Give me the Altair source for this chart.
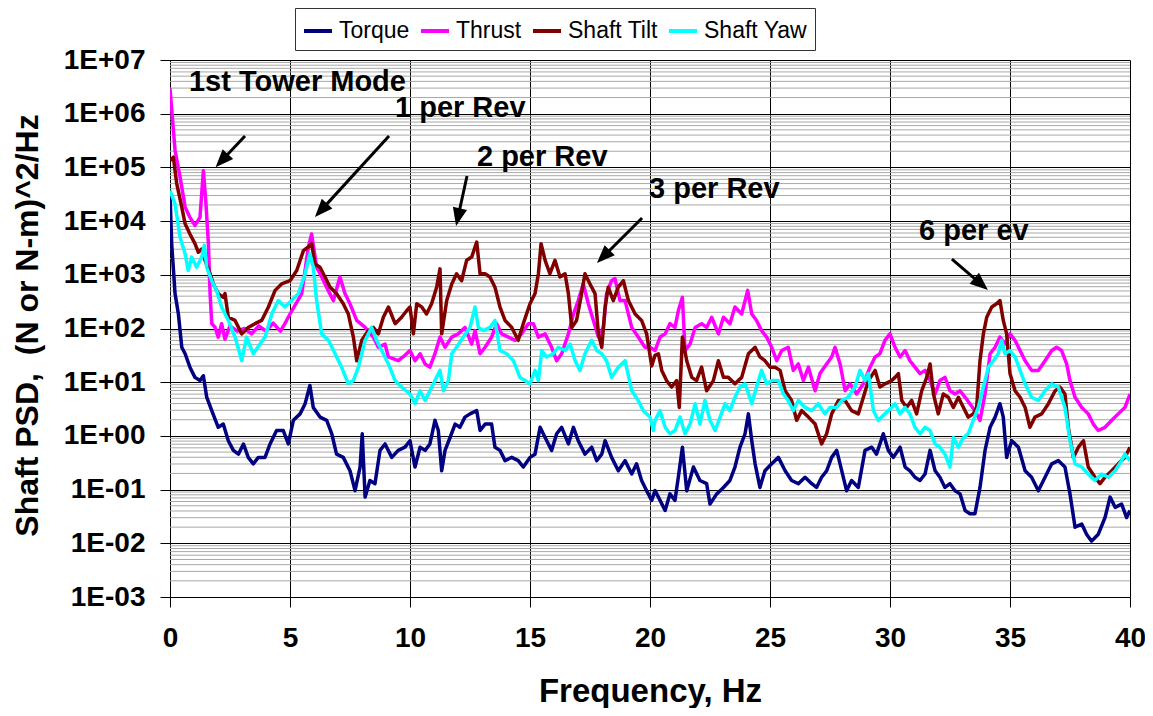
import altair as alt
import pandas as pd

series_names = ["Torque", "Thrust", "Shaft Tilt", "Shaft Yaw"]
series_colors = ["#000080", "#FF00FF", "#800000", "#00FFFF"]

# (frequency Hz, log10 PSD)
torque_log = [(0,4.51),(0.07,3.58),(0.21,2.65),(0.35,2.27),(0.49,1.65),(0.63,1.53),(0.83,1.28),(1.04,1.09),(1.25,1.03),(1.39,1.12),(1.53,0.72),(1.74,0.47),(2.01,0.16),(2.22,0.22),(2.43,-0.09),(2.64,-0.27),(2.85,-0.34),(3.06,-0.15),(3.26,-0.40),(3.47,-0.52),(3.68,-0.40),(3.96,-0.40),(4.17,-0.15),(4.44,0.10),(4.72,0.10),(4.93,-0.15),(5.14,0.29),(5.42,0.41),(5.63,0.60),(5.83,0.94),(5.97,0.53),(6.25,0.35),(6.53,0.29),(6.74,0.04),(6.94,-0.34),(7.22,-0.40),(7.5,-0.65),(7.71,-1.02),(7.92,-0.58),(8.01,0.04),(8.13,-1.14),(8.33,-0.83),(8.54,-0.89),(8.75,-0.27),(8.96,-0.15),(9.24,-0.40),(9.51,-0.27),(9.79,-0.21),(10.0,-0.09),(10.21,-0.58),(10.42,-0.21),(10.63,-0.27),(10.83,-0.15),(11.04,0.29),(11.18,0.10),(11.32,-0.65),(11.46,-0.27),(11.67,-0.03),(11.88,0.22),(12.08,0.16),(12.29,0.35),(12.5,0.41),(12.78,0.47),(12.92,0.10),(13.13,0.22),(13.4,0.22),(13.54,-0.21),(13.75,-0.27),(13.96,-0.46),(14.24,-0.40),(14.51,-0.46),(14.72,-0.58),(15.0,-0.40),(15.21,-0.34),(15.42,0.16),(15.63,-0.03),(15.9,-0.27),(16.11,0.04),(16.32,0.16),(16.6,-0.15),(16.81,0.16),(17.01,-0.09),(17.29,-0.34),(17.57,-0.21),(17.78,-0.46),(17.99,-0.34),(18.13,-0.09),(18.4,-0.40),(18.68,-0.65),(18.96,-0.46),(19.24,-0.71),(19.44,-0.52),(19.65,-0.83),(19.86,-1.02),(20.07,-1.20),(20.21,-1.02),(20.42,-1.20),(20.63,-1.39),(20.83,-1.08),(21.04,-1.20),(21.18,-0.77),(21.35,-0.21),(21.53,-1.02),(21.81,-0.58),(22.08,-0.83),(22.36,-0.89),(22.5,-1.27),(22.78,-1.08),(23.06,-0.96),(23.33,-0.83),(23.54,-0.58),(23.75,-0.21),(23.96,0.04),(24.1,0.41),(24.24,-0.09),(24.38,-0.52),(24.58,-0.96),(24.79,-0.65),(25.07,-0.52),(25.35,-0.40),(25.63,-0.65),(25.9,-0.83),(26.18,-0.89),(26.46,-0.77),(26.74,-0.89),(26.94,-0.96),(27.15,-0.77),(27.36,-0.65),(27.57,-0.40),(27.78,-0.27),(27.99,-0.65),(28.19,-1.02),(28.4,-0.83),(28.68,-0.96),(28.96,-0.27),(29.24,-0.21),(29.44,-0.34),(29.72,0.04),(29.93,-0.27),(30.14,-0.40),(30.42,-0.21),(30.63,-0.58),(30.83,-0.65),(31.04,-0.77),(31.25,-0.83),(31.46,-0.71),(31.67,-0.27),(31.88,-0.65),(32.08,-0.77),(32.29,-0.96),(32.5,-0.89),(32.71,-1.02),(32.92,-1.08),(33.13,-1.39),(33.33,-1.45),(33.54,-1.45),(33.75,-0.96),(33.96,-0.27),(34.17,0.16),(34.38,0.35),(34.58,0.60),(34.72,0.35),(34.86,-0.40),(35.07,-0.09),(35.35,-0.21),(35.63,-0.65),(35.9,-0.77),(36.18,-1.02),(36.46,-0.77),(36.74,-0.52),(37.01,-0.46),(37.29,-0.58),(37.5,-1.08),(37.71,-1.70),(37.99,-1.64),(38.19,-1.83),(38.4,-1.96),(38.68,-1.83),(38.96,-1.52),(39.17,-1.14),(39.38,-1.33),(39.65,-1.27),(39.86,-1.52),(40.0,-1.39)]

thrust_log = [(0,6.47),(0.21,5.32),(0.42,4.82),(0.63,4.26),(0.83,4.07),(1.04,3.92),(1.25,4.07),(1.39,4.94),(1.49,4.38),(1.6,3.58),(1.67,2.65),(1.74,2.09),(1.88,2.02),(2.01,1.84),(2.15,2.09),(2.29,1.80),(2.5,2.05),(2.8,1.95),(3.1,2.0),(3.4,1.9),(3.7,2.05),(4.0,1.95),(4.3,2.1),(4.6,1.95),(4.8,2.1),(5.0,2.27),(5.49,2.65),(5.76,3.5),(5.9,3.76),(6.11,3.14),(6.32,2.96),(6.6,2.7),(6.81,2.52),(7.08,2.96),(7.29,2.65),(7.5,2.46),(7.78,2.15),(8.13,2.02),(8.47,1.84),(8.68,1.65),(8.96,1.71),(9.1,1.47),(9.51,1.40),(9.79,1.50),(10.0,1.59),(10.21,1.40),(10.42,1.53),(10.63,1.34),(10.83,1.28),(11.04,1.53),(11.25,1.84),(11.46,1.65),(11.74,1.84),(12.01,1.90),(12.29,2.02),(12.57,1.71),(12.71,1.96),(12.92,1.53),(13.13,1.65),(13.4,1.84),(13.61,2.09),(13.82,1.90),(14.1,1.84),(14.38,1.78),(14.65,1.90),(14.93,2.09),(15.14,2.09),(15.35,1.84),(15.63,1.90),(15.9,1.65),(16.11,1.40),(16.32,1.53),(16.6,1.90),(16.81,2.27),(17.01,2.52),(17.22,2.83),(17.43,2.46),(17.64,2.15),(17.85,1.84),(18.06,2.02),(18.19,2.65),(18.4,2.89),(18.54,2.93),(18.75,2.52),(18.96,2.52),(19.24,2.02),(19.51,1.84),(19.79,1.65),(20.0,1.65),(20.21,1.59),(20.42,1.84),(20.63,1.90),(20.83,2.09),(21.04,2.02),(21.18,2.33),(21.35,2.58),(21.46,1.59),(21.67,1.71),(21.88,2.02),(22.15,2.09),(22.36,2.02),(22.57,2.21),(22.85,1.90),(23.06,2.21),(23.33,2.09),(23.54,2.40),(23.82,2.27),(24.07,2.71),(24.24,2.27),(24.44,2.15),(24.65,1.96),(24.86,1.84),(25.07,1.65),(25.28,1.40),(25.49,1.59),(25.76,1.65),(25.97,1.22),(26.18,1.34),(26.39,1.03),(26.6,1.28),(26.88,0.84),(27.08,1.16),(27.36,1.34),(27.57,1.47),(27.71,1.65),(27.92,1.34),(28.13,0.84),(28.33,0.97),(28.61,0.78),(28.89,0.97),(29.17,1.28),(29.38,1.47),(29.58,1.53),(29.79,1.78),(30.0,1.90),(30.21,1.65),(30.42,1.47),(30.63,1.59),(30.83,1.40),(31.04,1.28),(31.25,1.16),(31.46,1.22),(31.67,1.03),(31.88,0.78),(32.08,1.03),(32.29,1.09),(32.5,0.84),(32.71,0.78),(32.92,0.84),(33.13,0.72),(33.33,0.60),(33.54,0.47),(33.75,0.29),(33.96,0.78),(34.17,1.53),(34.38,1.65),(34.58,1.84),(34.79,1.71),(35.0,1.90),(35.21,1.78),(35.42,1.59),(35.63,1.40),(35.9,1.22),(36.18,1.22),(36.46,1.40),(36.74,1.59),(36.94,1.65),(37.15,1.59),(37.36,1.34),(37.5,1.03),(37.71,0.72),(37.99,0.53),(38.26,0.41),(38.47,0.22),(38.68,0.10),(38.96,0.16),(39.24,0.29),(39.51,0.41),(39.79,0.53),(40.0,0.78)]

tilt_log = [(0,5.13),(0.14,5.19),(0.28,4.70),(0.49,4.26),(0.63,3.95),(0.83,3.76),(1.04,3.58),(1.18,3.42),(1.32,3.48),(1.46,3.27),(1.67,3.02),(1.81,2.83),(2.01,2.65),(2.22,2.58),(2.29,2.65),(2.43,2.21),(2.71,2.15),(2.99,1.90),(3.26,2.02),(3.54,2.09),(3.82,2.15),(4.1,2.40),(4.38,2.71),(4.65,2.83),(5.0,2.89),(5.28,3.08),(5.56,3.45),(5.76,3.52),(5.9,3.58),(6.04,3.2),(6.25,3.14),(6.46,2.96),(6.67,2.77),(6.94,2.65),(7.22,2.46),(7.43,2.27),(7.64,1.84),(7.78,1.40),(7.99,1.78),(8.26,1.96),(8.47,2.02),(8.68,1.9),(8.89,2.21),(9.1,2.40),(9.38,2.09),(9.65,2.21),(9.86,2.33),(10.0,2.40),(10.14,1.90),(10.28,2.46),(10.49,2.40),(10.69,2.27),(10.9,2.46),(11.11,2.77),(11.25,3.11),(11.32,1.90),(11.53,2.52),(11.74,2.83),(11.94,3.02),(12.15,2.89),(12.36,3.27),(12.57,3.33),(12.78,3.61),(12.92,3.02),(13.13,3.02),(13.33,2.96),(13.54,2.77),(13.75,2.40),(13.96,2.15),(14.24,2.02),(14.51,1.78),(14.72,2.09),(15.0,2.46),(15.21,2.65),(15.35,3.02),(15.46,3.58),(15.63,3.27),(15.83,3.02),(16.04,3.27),(16.25,2.96),(16.46,3.02),(16.6,2.65),(16.74,2.02),(16.94,2.15),(17.15,2.65),(17.29,3.02),(17.5,2.83),(17.71,2.65),(17.85,1.90),(17.99,1.65),(18.13,2.40),(18.26,2.77),(18.47,2.52),(18.68,2.77),(18.89,2.89),(19.1,2.52),(19.38,2.27),(19.65,2.15),(19.86,1.90),(20.07,1.30),(20.21,1.50),(20.35,1.53),(20.49,1.22),(20.69,1.03),(20.9,0.91),(21.11,1.03),(21.22,0.53),(21.35,1.84),(21.53,1.40),(21.74,1.09),(21.94,1.03),(22.15,1.28),(22.36,0.84),(22.64,1.03),(22.85,1.40),(23.06,1.09),(23.26,1.09),(23.54,0.97),(23.82,1.09),(24.1,1.53),(24.38,1.65),(24.58,1.47),(24.79,1.40),(25.0,1.28),(25.21,1.28),(25.42,1.22),(25.63,0.84),(25.9,0.66),(26.11,0.29),(26.32,0.47),(26.6,0.35),(26.88,0.22),(27.15,-0.15),(27.36,0.04),(27.57,0.41),(27.85,0.66),(28.13,0.66),(28.4,0.47),(28.68,0.41),(28.89,0.72),(29.1,1.03),(29.38,1.22),(29.58,0.91),(29.79,0.97),(30.07,1.03),(30.21,1.09),(30.35,1.16),(30.49,0.66),(30.69,0.53),(30.9,0.66),(31.11,0.41),(31.32,0.84),(31.53,1.09),(31.67,1.34),(31.81,0.78),(32.01,0.41),(32.22,0.78),(32.43,0.72),(32.64,0.53),(32.85,0.72),(33.06,0.53),(33.26,0.35),(33.47,0.41),(33.61,0.53),(33.75,1.40),(33.89,1.90),(34.03,2.21),(34.24,2.40),(34.44,2.46),(34.58,2.52),(34.72,2.15),(34.86,1.90),(35.0,1.16),(35.21,0.84),(35.42,0.72),(35.63,0.53),(35.83,0.16),(36.04,0.35),(36.32,0.41),(36.6,0.60),(36.88,0.84),(37.08,0.91),(37.29,0.78),(37.43,0.16),(37.64,-0.40),(37.85,-0.21),(38.06,-0.09),(38.26,-0.58),(38.54,-0.77),(38.75,-0.89),(38.96,-0.77),(39.24,-0.65),(39.51,-0.52),(39.79,-0.40),(40.0,-0.21)]

yaw_log = [(0,4.57),(0.21,4.32),(0.42,3.70),(0.63,3.39),(0.76,3.08),(0.9,3.33),(1.11,3.14),(1.32,3.33),(1.43,3.55),(1.53,3.14),(1.74,2.89),(1.94,2.71),(2.15,2.40),(2.43,2.15),(2.71,1.84),(2.99,1.40),(3.19,1.84),(3.47,1.53),(3.75,1.71),(3.96,1.84),(4.24,2.27),(4.51,2.52),(4.79,2.40),(5.07,2.52),(5.35,2.65),(5.63,3.02),(5.83,3.39),(5.97,3.14),(6.11,2.52),(6.32,1.90),(6.6,1.78),(6.88,1.53),(7.15,1.28),(7.43,0.97),(7.64,1.03),(7.85,1.28),(8.13,1.78),(8.4,2.02),(8.61,1.78),(8.82,1.59),(9.1,1.34),(9.38,1.03),(9.65,0.91),(10.0,0.78),(10.21,0.60),(10.42,0.84),(10.63,0.66),(10.83,0.84),(11.04,1.03),(11.25,1.22),(11.39,0.84),(11.6,1.03),(11.74,1.53),(11.94,1.65),(12.22,1.84),(12.5,2.02),(12.71,2.40),(12.85,2.02),(13.06,1.96),(13.33,2.02),(13.54,2.15),(13.75,1.59),(14.03,1.53),(14.31,1.40),(14.58,1.09),(14.79,1.03),(15.0,0.97),(15.21,1.22),(15.35,1.03),(15.49,1.59),(15.69,1.47),(15.97,1.53),(16.18,1.65),(16.46,1.59),(16.67,1.71),(16.88,1.40),(17.08,1.22),(17.29,1.53),(17.57,1.78),(17.78,1.59),(17.99,1.53),(18.19,1.40),(18.4,1.09),(18.68,1.28),(18.96,1.40),(19.24,0.84),(19.51,0.66),(19.72,0.47),(20.0,0.35),(20.14,0.10),(20.21,0.29),(20.42,0.47),(20.63,0.16),(20.83,0.04),(21.04,0.10),(21.25,0.35),(21.46,0.04),(21.67,0.22),(21.88,0.60),(22.08,0.22),(22.29,0.66),(22.5,0.29),(22.71,0.10),(22.92,0.35),(23.13,0.60),(23.33,0.47),(23.54,0.72),(23.75,0.91),(23.96,0.97),(24.24,0.60),(24.44,0.91),(24.65,1.22),(24.86,0.97),(25.07,1.03),(25.35,1.03),(25.56,0.78),(25.76,0.66),(25.97,0.47),(26.18,0.66),(26.46,0.53),(26.74,0.47),(27.01,0.60),(27.29,0.41),(27.5,0.53),(27.78,0.53),(27.99,0.66),(28.26,0.72),(28.54,0.91),(28.75,1.22),(28.96,1.03),(29.1,1.16),(29.31,0.47),(29.51,0.29),(29.79,0.41),(30.07,0.53),(30.21,0.60),(30.42,0.41),(30.63,0.53),(30.83,0.41),(31.04,0.16),(31.25,0.04),(31.46,0.16),(31.67,0.10),(31.88,-0.15),(32.08,-0.21),(32.29,-0.34),(32.5,-0.58),(32.64,-0.03),(32.85,-0.21),(33.06,-0.03),(33.26,0.04),(33.47,0.29),(33.68,0.53),(33.89,0.91),(34.1,1.28),(34.31,1.40),(34.51,1.53),(34.65,1.78),(34.79,1.53),(35.0,1.59),(35.21,1.47),(35.42,1.22),(35.63,0.97),(35.9,0.72),(36.18,0.66),(36.46,0.84),(36.74,0.97),(37.01,0.91),(37.29,0.53),(37.5,-0.09),(37.71,-0.52),(37.99,-0.58),(38.26,-0.71),(38.54,-0.83),(38.82,-0.71),(39.1,-0.77),(39.38,-0.65),(39.65,-0.46),(39.79,-0.34),(40.0,-0.46)]

x_ticks = [0, 5, 10, 15, 20, 25, 30, 35, 40]
y_decades = [1e-3, 1e-2, 1e-1, 1e0, 1e1, 1e2, 1e3, 1e4, 1e5, 1e6, 1e7]
y_minor = [k * d for d in y_decades[:-1] for k in range(2, 10)]

# annotations: label, freq, log10 y of baseline
ann_labels = ["1st Tower Mode", "1 per Rev", "2 per Rev", "3 per Rev", "6 per ev"]
ann_freq = [0.79, 9.375, 12.79, 19.96, 31.21]
ann_log = [6.423, 5.939, 5.026, 4.430, 3.648]

# arrows: start (freq, log10), end (freq, log10), head angle (deg clockwise from up)
arr_f0 = [3.125, 9.125, 12.375, 19.67, 32.58]
arr_l0 = [5.585, 5.585, 4.84, 4.058, 3.294]
arr_f1 = [1.90, 6.04, 11.92, 17.79, 34.08]
arr_l1 = [5.002, 4.076, 3.909, 3.22, 2.717]
arr_angle = [223, 222.4, 192.4, 225, 130.7]

rows = []
for name, pts in zip(series_names, [torque_log, thrust_log, tilt_log, yaw_log]):
    for i, (f, lv) in enumerate(pts):
        rows.append({"series": name, "freq": f, "psd": 10 ** lv, "ord": i})
df = pd.DataFrame(rows)

minor_df = pd.DataFrame({"v": y_minor})
ann_df = pd.DataFrame({"label": ann_labels, "f": ann_freq, "y": [10 ** v for v in ann_log]})
arr_df = pd.DataFrame({
    "f0": arr_f0,
    "y0": [10 ** v for v in arr_l0],
    "f1": [a + 0.85 * (b - a) for a, b in zip(arr_f0, arr_f1)],
    "y1": [10 ** (a + 0.85 * (b - a)) for a, b in zip(arr_l0, arr_l1)],
    "fe": arr_f1,
    "ye": [10 ** v for v in arr_l1],
    "angle": arr_angle,
})

FONT = "Liberation Sans"
xscale = alt.Scale(domain=[0, 40], nice=False, zero=False)
yscale = alt.Scale(type="log", domain=[1e-3, 1e7], nice=False)

y_label_expr = ("'1E' + (datum.value >= 1 ? '+' : '-') + "
                "pad('' + abs(round(log(datum.value) / LN10)), 2, '0', 'left')")

x_axis = alt.Axis(
    values=x_ticks, format="d", title="Frequency, Hz", grid=True, gridColor="black",
    gridWidth=1, tickSize=10, tickColor="black", tickWidth=1, domainColor="black",
    domainWidth=1, labelFont=FONT, labelFontSize=28, labelFontWeight="bold",
    labelColor="black", labelPadding=17, labelFlush=False, titleFont=FONT,
    titleFontSize=33, titleFontWeight="bold", titleColor="black", titleX=480,
    titleY=104, titleAlign="center", titleBaseline="alphabetic")

y_axis = alt.Axis(
    values=y_decades, labelExpr=y_label_expr, title="Shaft PSD,\u00a0 (N or N-m)^2/Hz",
    grid=True, gridColor="black", gridWidth=1, tickSize=10, tickColor="black",
    tickWidth=1, domainColor="black", domainWidth=1, labelFont=FONT, labelFontSize=28,
    labelFontWeight="bold", labelColor="black", labelPadding=15, labelFlush=False,
    titleFont=FONT, titleFontSize=32, titleFontWeight="bold", titleColor="black",
    titleAngle=270, titleX=-133, titleY=265, titleAlign="center",
    titleBaseline="alphabetic")

minor = alt.Chart(minor_df).mark_rule(color="#a8a8a8", strokeWidth=1).encode(
    y=alt.Y("v:Q", scale=yscale, axis=y_axis)
)

lines = alt.Chart(df).mark_line(strokeWidth=3.5, clip=True, strokeJoin="round").encode(
    x=alt.X("freq:Q", scale=xscale, axis=x_axis),
    y=alt.Y("psd:Q", scale=yscale, axis=y_axis),
    color=alt.Color("series:N", sort=series_names,
                    scale=alt.Scale(domain=series_names, range=series_colors),
                    legend=alt.Legend(
                        title=None, orient="none", legendX=125, legendY=-52,
                        direction="horizontal", symbolType="stroke", symbolSize=784,
                        symbolStrokeWidth=4, labelFont=FONT, gridAlign="none",
                        labelFontSize=23, labelColor="black", labelOffset=5,
                        columnPadding=3, padding=7, strokeColor="#333333",
                        fillColor="white", labelLimit=0)),
    order="ord:Q",
)

arrows = alt.Chart(arr_df).mark_rule(color="black", strokeWidth=3).encode(
    x=alt.X("f0:Q", scale=xscale, axis=x_axis),
    y=alt.Y("y0:Q", scale=yscale, axis=y_axis),
    x2="f1:Q",
    y2="y1:Q",
)

heads = alt.Chart(arr_df).mark_point(
    shape="M0,0L-0.4,1L0.4,1Z", size=1296, filled=True, color="black", opacity=1, strokeWidth=0
).encode(
    x=alt.X("fe:Q", scale=xscale, axis=x_axis),
    y=alt.Y("ye:Q", scale=yscale, axis=y_axis),
    angle=alt.Angle("angle:Q", scale=None),
)

texts = alt.Chart(ann_df).mark_text(
    align="left", baseline="alphabetic", font=FONT, fontSize=29, fontWeight="bold", color="black"
).encode(
    x=alt.X("f:Q", scale=xscale, axis=x_axis),
    y=alt.Y("y:Q", scale=yscale, axis=y_axis),
    text="label:N",
)

chart = alt.layer(minor, lines, arrows, heads, texts).properties(
    width=960, height=537,
    autosize=alt.AutoSizeParams(type="none"),
    padding={"left": 162, "top": 52, "right": 15, "bottom": 111},
    background="white",
).configure_view(stroke=None)

chart.save("out.html", embed_options={"renderer": "svg", "actions": False})
